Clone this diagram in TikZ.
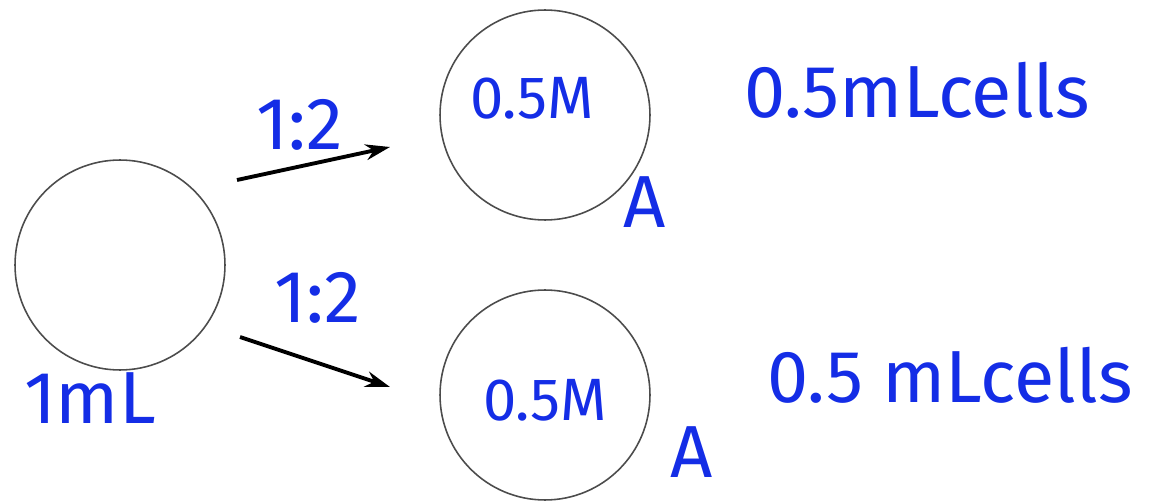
\documentclass[tikz,border=0pt]{standalone}
\usepackage{fontspec}
\setmainfont{Fira Sans}
\usetikzlibrary{positioning, arrows.meta}
\definecolor{ink}{RGB}{20,45,230}

\begin{document}
\begin{tikzpicture}[x=0.02cm, y=-0.02cm,
                  cell/.style={draw=black!70, line width=0.9pt, circle, minimum size=4.2cm, inner sep=0pt},
                  hand/.style={text=ink, font=\fontsize{34}{34}\selectfont, inner sep=0pt},
                  big/.style={hand, font=\fontsize{42}{42}\selectfont},
                  arr/.style={-{Stealth[length=14pt, width=9pt]}, line width=2.2pt},
            ]
            \useasboundingbox (0,0) rectangle (1163,503);
            \node[cell] (src) at (120,265) {};
            \node[cell] (top) at (545,115) {};
            \node[cell] (bot) at (545,395) {};

            \coordinate (t0) at (237,180);
            \coordinate (t1) at (390,147);
            \coordinate (b0) at (240,337);
            \coordinate (b1) at (390,387);
            \draw[arr] (t0) -- (t1);
            \draw[arr] (b0) -- (b1);

            \node[big] (r1) at (300,125) {1:2};
            \node[big] (r2) at (318,298) {1:2};
            \node[hand] (c1) at (532,98) {0.5M};
            \node[hand] (c2) at (545,400) {0.5M};
            \node[big] (a1) at (645,202) {A};
            \node[big] (a2) at (692,452) {A};
            \node[big] (v1) at (917,90) {0.5mLcells};
            \node[big] (v2) at (950,375) {0.5 mLcells};
            \node[big] (v0) at (90,398) {1mL};
      \end{tikzpicture}
\end{document}
